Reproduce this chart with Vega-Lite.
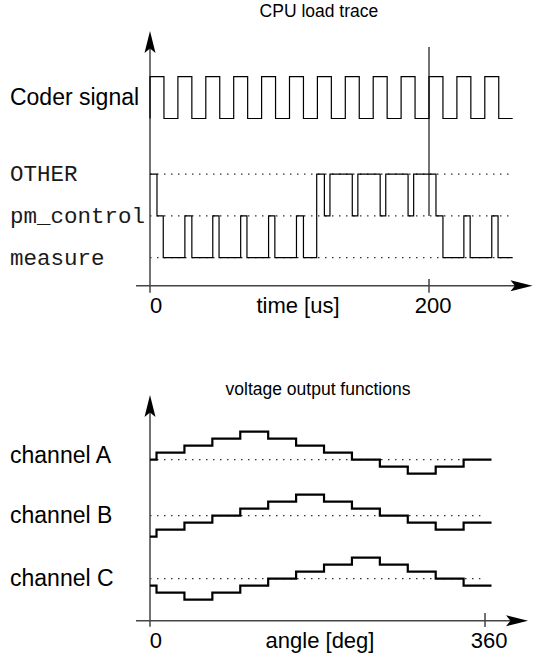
{
  "$schema": "https://vega.github.io/schema/vega-lite/v6.json",
  "width": 534,
  "height": 655,
  "autosize": {"type": "fit", "contains": "padding"},
  "padding": 0,
  "background": "white",
  "config": {"view": {"stroke": null}},
  "datasets": {
    "coder": [
      {"i": 0, "t": 0, "v": 3.33}, {"i": 1, "t": 0, "v": 4.33}, {"i": 2, "t": 10, "v": 3.33}, {"i": 3, "t": 20, "v": 4.33},
      {"i": 4, "t": 30, "v": 3.33}, {"i": 5, "t": 40, "v": 4.33}, {"i": 6, "t": 50, "v": 3.33}, {"i": 7, "t": 60, "v": 4.33},
      {"i": 8, "t": 70, "v": 3.33}, {"i": 9, "t": 80, "v": 4.33}, {"i": 10, "t": 90, "v": 3.33}, {"i": 11, "t": 100, "v": 4.33},
      {"i": 12, "t": 110, "v": 3.33}, {"i": 13, "t": 120, "v": 4.33}, {"i": 14, "t": 130, "v": 3.33}, {"i": 15, "t": 140, "v": 4.33},
      {"i": 16, "t": 150, "v": 3.33}, {"i": 17, "t": 160, "v": 4.33}, {"i": 18, "t": 170, "v": 3.33}, {"i": 19, "t": 180, "v": 4.33},
      {"i": 20, "t": 190, "v": 3.33}, {"i": 21, "t": 200, "v": 4.33}, {"i": 22, "t": 210, "v": 3.33}, {"i": 23, "t": 220, "v": 4.33},
      {"i": 24, "t": 230, "v": 3.33}, {"i": 25, "t": 240, "v": 4.33}, {"i": 26, "t": 250, "v": 3.33}, {"i": 27, "t": 260, "v": 3.33}
    ],
    "task": [
      {"i": 0, "t": 0, "v": 2}, {"i": 1, "t": 5, "v": 1}, {"i": 2, "t": 9.5, "v": 0}, {"i": 3, "t": 25, "v": 1},
      {"i": 4, "t": 30, "v": 0}, {"i": 5, "t": 45, "v": 1}, {"i": 6, "t": 49.5, "v": 0}, {"i": 7, "t": 65, "v": 1},
      {"i": 8, "t": 69.5, "v": 0}, {"i": 9, "t": 85, "v": 1}, {"i": 10, "t": 89.5, "v": 0}, {"i": 11, "t": 105, "v": 1},
      {"i": 12, "t": 110, "v": 0}, {"i": 13, "t": 119.5, "v": 2}, {"i": 14, "t": 125, "v": 1}, {"i": 15, "t": 129, "v": 2},
      {"i": 16, "t": 145, "v": 1}, {"i": 17, "t": 149, "v": 2}, {"i": 18, "t": 165, "v": 1}, {"i": 19, "t": 169, "v": 2},
      {"i": 20, "t": 185, "v": 1}, {"i": 21, "t": 189, "v": 2}, {"i": 22, "t": 205, "v": 1}, {"i": 23, "t": 210, "v": 0},
      {"i": 24, "t": 225, "v": 1}, {"i": 25, "t": 229.5, "v": 0}, {"i": 26, "t": 245, "v": 1}, {"i": 27, "t": 249.5, "v": 0},
      {"i": 28, "t": 260, "v": 0}
    ],
    "topDots": [
      {"t": 0, "t2": 257, "v": 2, "v2": 2},
      {"t": 0, "t2": 257, "v": 1, "v2": 1},
      {"t": 0, "t2": 257, "v": 0, "v2": 0}
    ],
    "topAxes": [
      {"t": -10, "t2": 266, "v": -0.67, "v2": -0.67},
      {"t": 0, "t2": 0, "v": -0.84, "v2": 5.16},
      {"t": 200, "t2": 200, "v": -0.51, "v2": -0.84},
      {"t": 200, "t2": 200, "v": 1.0, "v2": 5.04}
    ],
    "topUp": [{"t": 0, "v": 5.16}],
    "topRight": [{"t": 266.3, "v": -0.67}],
    "topTitle": [{"t": 121.1, "v": 5.88, "label": "CPU load trace"}],
    "topTicks": [
      {"t": 4.3, "v": -1.16, "label": "0"},
      {"t": 106.1, "v": -1.16, "label": "time [us]"},
      {"t": 202.9, "v": -1.16, "label": "200"}
    ],
    "topSans": [{"t": -100.4, "v": 3.83, "label": "Coder signal"}],
    "topMono": [
      {"t": -100.4, "v": 2, "label": "OTHER"},
      {"t": -100.4, "v": 1, "label": "pm_control"},
      {"t": -100.4, "v": 0, "label": "measure"}
    ],
    "channels": [
      {"ch": "A", "i": 0, "deg": 0, "u": 17}, {"ch": "A", "i": 1, "deg": 7, "u": 18}, {"ch": "A", "i": 2, "deg": 37, "u": 19},
      {"ch": "A", "i": 3, "deg": 67, "u": 20}, {"ch": "A", "i": 4, "deg": 97, "u": 21}, {"ch": "A", "i": 5, "deg": 127, "u": 20},
      {"ch": "A", "i": 6, "deg": 157, "u": 19}, {"ch": "A", "i": 7, "deg": 187, "u": 18}, {"ch": "A", "i": 8, "deg": 217, "u": 17},
      {"ch": "A", "i": 9, "deg": 247, "u": 16}, {"ch": "A", "i": 10, "deg": 277, "u": 15}, {"ch": "A", "i": 11, "deg": 307, "u": 16},
      {"ch": "A", "i": 12, "deg": 337, "u": 17}, {"ch": "A", "i": 13, "deg": 367, "u": 17},
      {"ch": "B", "i": 0, "deg": 0, "u": 6}, {"ch": "B", "i": 1, "deg": 7, "u": 7}, {"ch": "B", "i": 2, "deg": 37, "u": 8},
      {"ch": "B", "i": 3, "deg": 67, "u": 9}, {"ch": "B", "i": 4, "deg": 97, "u": 10}, {"ch": "B", "i": 5, "deg": 127, "u": 11},
      {"ch": "B", "i": 6, "deg": 157, "u": 12}, {"ch": "B", "i": 7, "deg": 187, "u": 11}, {"ch": "B", "i": 8, "deg": 217, "u": 10},
      {"ch": "B", "i": 9, "deg": 247, "u": 9}, {"ch": "B", "i": 10, "deg": 277, "u": 8}, {"ch": "B", "i": 11, "deg": 307, "u": 7},
      {"ch": "B", "i": 12, "deg": 337, "u": 8}, {"ch": "B", "i": 13, "deg": 367, "u": 8},
      {"ch": "C", "i": 0, "deg": 0, "u": -1}, {"ch": "C", "i": 1, "deg": 7, "u": -2}, {"ch": "C", "i": 2, "deg": 37, "u": -3},
      {"ch": "C", "i": 3, "deg": 67, "u": -2}, {"ch": "C", "i": 4, "deg": 97, "u": -1}, {"ch": "C", "i": 5, "deg": 127, "u": 0},
      {"ch": "C", "i": 6, "deg": 157, "u": 1}, {"ch": "C", "i": 7, "deg": 187, "u": 2}, {"ch": "C", "i": 8, "deg": 217, "u": 3},
      {"ch": "C", "i": 9, "deg": 247, "u": 2}, {"ch": "C", "i": 10, "deg": 277, "u": 1}, {"ch": "C", "i": 11, "deg": 307, "u": 0},
      {"ch": "C", "i": 12, "deg": 337, "u": -1}, {"ch": "C", "i": 13, "deg": 367, "u": -1}
    ],
    "botDots": [
      {"deg": 0, "deg2": 355, "u": 17, "u2": 17},
      {"deg": 0, "deg2": 355, "u": 9, "u2": 9},
      {"deg": 0, "deg2": 355, "u": 0, "u2": 0}
    ],
    "botAxes": [
      {"deg": -15, "deg2": 394, "u": -6, "u2": -6},
      {"deg": 0, "deg2": 0, "u": -6.86, "u2": 24.67},
      {"deg": 360, "deg2": 360, "u": -4.9, "u2": -6.9}
    ],
    "botUp": [{"deg": 0, "u": 24.67}],
    "botRight": [{"deg": 394.4, "u": -6}],
    "botTitle": [{"deg": 180.5, "u": 26.96, "label": "voltage output functions"}],
    "botTicks": [
      {"deg": 6.4, "u": -8.9, "label": "0"},
      {"deg": 182.7, "u": -8.9, "label": "angle [deg]"},
      {"deg": 364.3, "u": -8.9, "label": "360"}
    ],
    "botLabels": [
      {"deg": -150.4, "u": 17.5, "label": "channel A"},
      {"deg": -150.4, "u": 9, "label": "channel B"},
      {"deg": -150.4, "u": 0, "label": "channel C"}
    ]
  },
  "layer": [
    {
      "encoding": {
        "x": {"field": "t", "type": "quantitative", "scale": {"domain": [-107.53, 275.27], "nice": false, "zero": false}, "axis": null},
        "y": {"field": "v", "type": "quantitative", "scale": {"domain": [-9.505, 6.165], "nice": false, "zero": false}, "axis": null}
      },
      "layer": [
        {
          "data": {"name": "topDots"},
          "mark": {"type": "rule", "strokeDash": [1.5, 5.5], "strokeWidth": 1.2, "color": "#333333"},
          "encoding": {"x2": {"field": "t2"}, "y2": {"field": "v2"}}
        },
        {
          "data": {"name": "topAxes"},
          "mark": {"type": "rule", "strokeWidth": 1.5, "color": "#444444"},
          "encoding": {"x2": {"field": "t2"}, "y2": {"field": "v2"}}
        },
        {
          "data": {"name": "coder"},
          "mark": {"type": "line", "interpolate": "step-after", "strokeWidth": 1.2, "color": "black"},
          "encoding": {"order": {"field": "i", "type": "quantitative"}}
        },
        {
          "data": {"name": "task"},
          "mark": {"type": "line", "interpolate": "step-after", "strokeWidth": 1.2, "color": "black"},
          "encoding": {"order": {"field": "i", "type": "quantitative"}}
        },
        {
          "data": {"name": "topUp"},
          "mark": {"type": "point", "shape": "M0,-1L0.5,1L0,0.6L-0.5,1Z", "filled": true, "size": 484, "color": "black", "opacity": 1, "strokeWidth": 0}
        },
        {
          "data": {"name": "topRight"},
          "mark": {"type": "point", "shape": "M1,0L-1,0.5L-0.6,0L-1,-0.5Z", "filled": true, "size": 484, "color": "black", "opacity": 1, "strokeWidth": 0}
        },
        {
          "data": {"name": "topTitle"},
          "mark": {"type": "text", "font": "Liberation Sans", "fontSize": 17.5, "align": "center", "baseline": "middle", "color": "black"},
          "encoding": {"text": {"field": "label"}}
        },
        {
          "data": {"name": "topTicks"},
          "mark": {"type": "text", "font": "Liberation Sans", "fontSize": 22, "align": "center", "baseline": "middle", "color": "black"},
          "encoding": {"text": {"field": "label"}}
        },
        {
          "data": {"name": "topSans"},
          "mark": {"type": "text", "font": "Liberation Sans", "fontSize": 23, "align": "left", "baseline": "middle", "color": "black"},
          "encoding": {"text": {"field": "label"}}
        },
        {
          "data": {"name": "topMono"},
          "mark": {"type": "text", "font": "Liberation Mono", "fontSize": 22.5, "align": "left", "baseline": "middle", "color": "#1a1a1a"},
          "encoding": {"text": {"field": "label"}}
        }
      ]
    },
    {
      "encoding": {
        "x": {"field": "deg", "type": "quantitative", "scale": {"domain": [-161.19, 412.64], "nice": false, "zero": false}, "axis": null},
        "y": {"field": "u", "type": "quantitative", "scale": {"domain": [-10.9, 82.67], "nice": false, "zero": false}, "axis": null}
      },
      "layer": [
        {
          "data": {"name": "botDots"},
          "mark": {"type": "rule", "strokeDash": [1.5, 5.5], "strokeWidth": 1.2, "color": "#333333"},
          "encoding": {"x2": {"field": "deg2"}, "y2": {"field": "u2"}}
        },
        {
          "data": {"name": "botAxes"},
          "mark": {"type": "rule", "strokeWidth": 1.5, "color": "#444444"},
          "encoding": {"x2": {"field": "deg2"}, "y2": {"field": "u2"}}
        },
        {
          "data": {"name": "channels"},
          "mark": {"type": "line", "interpolate": "step-after", "strokeWidth": 2.2, "color": "black"},
          "encoding": {"detail": {"field": "ch"}, "order": {"field": "i", "type": "quantitative"}}
        },
        {
          "data": {"name": "botUp"},
          "mark": {"type": "point", "shape": "M0,-1L0.5,1L0,0.6L-0.5,1Z", "filled": true, "size": 484, "color": "black", "opacity": 1, "strokeWidth": 0}
        },
        {
          "data": {"name": "botRight"},
          "mark": {"type": "point", "shape": "M1,0L-1,0.5L-0.6,0L-1,-0.5Z", "filled": true, "size": 484, "color": "black", "opacity": 1, "strokeWidth": 0}
        },
        {
          "data": {"name": "botTitle"},
          "mark": {"type": "text", "font": "Liberation Sans", "fontSize": 17.5, "align": "center", "baseline": "middle", "color": "black"},
          "encoding": {"text": {"field": "label"}}
        },
        {
          "data": {"name": "botTicks"},
          "mark": {"type": "text", "font": "Liberation Sans", "fontSize": 22, "align": "center", "baseline": "middle", "color": "black"},
          "encoding": {"text": {"field": "label"}}
        },
        {
          "data": {"name": "botLabels"},
          "mark": {"type": "text", "font": "Liberation Sans", "fontSize": 23, "align": "left", "baseline": "middle", "color": "black"},
          "encoding": {"text": {"field": "label"}}
        }
      ]
    }
  ],
  "resolve": {"scale": {"x": "independent", "y": "independent"}}
}
